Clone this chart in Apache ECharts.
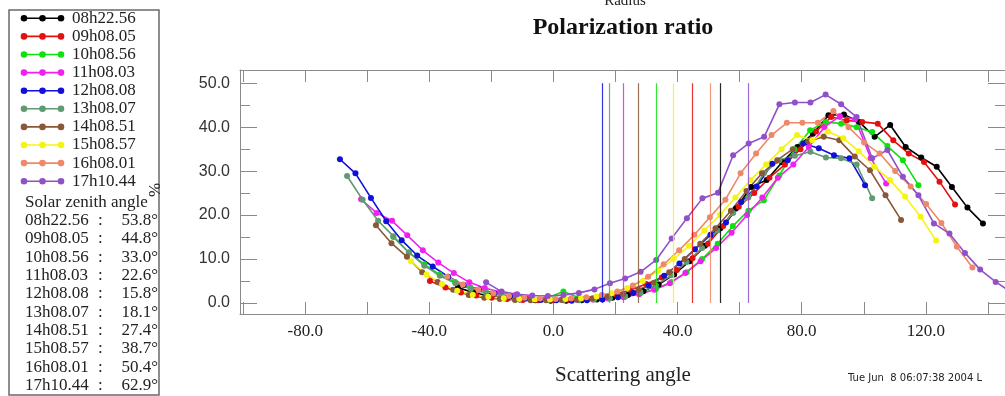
<!DOCTYPE html>
<html><head><meta charset="utf-8">
<script src="https://cdn.jsdelivr.net/npm/echarts@6/dist/echarts.min.js"></script>
<style>html,body{margin:0;padding:0;background:#fff;overflow:hidden}#c{width:1005px;height:396px}</style>
</head><body><div id="c"></div>
<script>
// ---- data ----
const names = ['08h22.56','09h08.05','10h08.56','11h08.03','12h08.08','13h08.07','14h08.51','15h08.57','16h08.01','17h10.44'];
const zenith = [53.8, 44.8, 33.0, 22.6, 15.8, 18.1, 27.4, 38.7, 50.4, 62.9];
const colors = ['#000000','#e41010','#10e010','#f020f0','#1010d8','#609a70','#8a5838','#f4f410','#ee8868','#9050c8'];
// viewing angles of the instrument (scattering angle = zenith + view angle)
const viewAngles = [-84.6,-79.6,-74.6,-69.7,-64.7,-59.7,-54.7,-49.7,-44.7,-39.8,-34.8,-29.8,-24.8,-19.9,-14.9,-9.9,-5.0,0.0,5.0,9.9,14.9,19.9,24.8,29.8,34.8,39.8,44.7,49.7,54.7,59.7,64.7,69.7,74.6,79.6,84.6];
const r08 = [3.5,2.4,1.6,1.1,0.8,0.6,0.5,0.5,0.6,0.8,1.2,1.8,2.7,4.2,6.5,9.5,13.0,17.0,21.5,26.4,28.0,32.0,35.5,38.5,42.7,42.9,41.2,37.8,40.5,35.5,33.1,31.0,26.4,21.7,18.1];
const r09 = [5.0,3.5,2.4,1.7,1.2,0.9,0.7,0.6,0.6,0.7,0.9,1.3,2.0,3.0,4.3,5.8,7.5,10.2,13.5,17.5,21.9,25.0,28.5,31.5,35.0,39.0,42.3,41.5,41.2,40.8,37.0,34.0,32.1,27.6,22.4];
const r10 = [15.0,11.5,8.8,6.5,4.8,3.5,2.5,1.8,1.4,1.1,1.2,2.6,1.2,1.0,1.1,1.5,2.2,3.2,4.8,7.0,10.0,13.5,17.5,21.0,23.4,29.0,35.0,39.3,41.2,40.8,40.0,38.9,35.7,32.5,26.8];
const r11 = [23.6,20.5,18.7,15.4,12.0,9.2,6.8,4.7,3.4,2.5,1.8,1.3,1.0,0.8,0.7,0.8,1.0,1.3,2.0,3.0,4.5,6.8,9.5,12.5,16.0,20.0,24.0,28.5,31.5,35.5,40.0,42.5,41.8,33.0,27.2];
const r12 = [32.7,29.5,23.9,18.6,14.3,10.8,8.3,6.0,4.1,3.1,2.2,1.5,1.0,0.7,0.6,0.5,0.6,0.8,1.3,2.3,4.0,6.2,9.0,12.2,15.5,18.3,23.0,26.5,31.7,32.5,36.3,35.2,33.6,32.9,26.8];
const r13 = [28.9,23.5,18.7,15.2,11.5,8.5,6.2,4.5,3.2,2.3,1.7,1.2,0.9,0.7,0.6,0.6,0.8,1.0,1.5,2.5,4.0,6.3,9.3,12.5,16.5,20.5,24.0,29.5,32.5,33.5,34.4,33.1,32.9,31.5,23.8];
const r14 = [17.7,13.6,10.5,7.0,4.8,3.0,1.8,1.2,0.9,0.7,0.6,0.6,0.7,0.8,1.0,1.4,2.0,3.0,4.6,7.0,10.0,13.5,17.0,21.0,25.5,29.5,32.5,35.0,36.8,37.8,37.0,33.3,30.2,24.5,18.9];
const r15 = [9.5,6.5,4.3,2.8,1.9,1.4,1.1,0.9,0.8,0.8,0.9,1.1,1.5,2.2,3.4,5.0,7.3,10.0,13.0,16.5,20.0,24.0,28.0,31.5,35.0,38.2,37.0,39.0,37.5,34.5,31.0,28.0,24.2,19.6,14.2];
const r16 = [6.0,4.2,3.0,2.2,1.6,1.2,1.0,0.9,1.0,1.3,1.8,2.6,4.0,6.0,8.8,12.0,15.5,19.5,23.5,29.5,34.0,38.2,41.0,41.0,41.0,43.7,40.0,36.5,34.0,30.0,26.5,22.5,18.2,12.8,8.1];
const r17 = [4.7,2.6,2.0,1.7,1.6,1.8,2.3,3.1,4.5,5.6,7.1,9.8,14.7,19.3,23.8,25.1,33.6,36.3,37.8,45.2,45.6,45.6,47.4,45.2,42.3,32.9,34.8,28.7,24.5,18.1,15.8,11.4,7.6,4.8,2.5];
const ratios = [r08,r09,r10,r11,r12,r13,r14,r15,r16,r17];
const xTicks = [-100,-80,-60,-40,-20,0,20,40,60,80,100,120,140];
const xLabels = [-80,-40,0,40,80,120];
const yMajor = [0,10,20,30,40,50];
const yMinor = [5,15,25,35,45];
const title = 'Polarization ratio';
const topTitle = 'Radius';
const xName = 'Scattering angle';
const yName = '%';
const tableTitle = 'Solar zenith angle';
const stamp = 'Tue Jun  8 06:07:38 2004 L';

// ---- chart ----
const chart = echarts.init(document.getElementById('c'), null, {renderer:'canvas'});
const axisGray = '#8a8a8a';
const serif = 'Liberation Serif';

const series = names.map((n, s) => ({
  name: n, type: 'line', xAxisIndex: 0, yAxisIndex: 0,
  data: viewAngles.map((v, i) => [Math.round((zenith[s] + v) * 10) / 10, ratios[s][i]]),
  symbol: 'circle', symbolSize: 6, showSymbol: true,
  lineStyle: {color: colors[s], width: 1.6},
  itemStyle: {color: colors[s]},
  emphasis: {disabled: true}, silent: true, animation: false, clip: true,
  markLine: {
    silent: true, symbol: ['none','none'], animation: false,
    label: {show: false},
    lineStyle: {color: colors[s], width: 1.2, type: 'solid', opacity: 0.85},
    data: [[{coord: [zenith[s], 0]}, {coord: [zenith[s], 50]}]]
  }
}));

function yAx(pos, ticks, len, showLine, labels) {
  return {
    type: 'value', position: pos, min: -2.5, max: 53,
    axisLine: {show: showLine, onZero: false, lineStyle: {color: axisGray, width: 1}},
    axisTick: {show: true, inside: true, length: len, customValues: ticks, lineStyle: {color: axisGray}},
    axisLabel: labels ? {show: true, customValues: ticks, formatter: v => v.toFixed(1), fontFamily: 'Liberation Sans', fontSize: 16, color: '#333', margin: 10} : {show: false},
    splitLine: {show: false}
  };
}
function xAx(pos, labels) {
  return {
    type: 'value', position: pos, min: -101, max: 145.5,
    axisLine: {show: true, onZero: false, lineStyle: {color: axisGray, width: 1}},
    axisTick: {show: true, inside: true, length: 12, customValues: xTicks, lineStyle: {color: axisGray}},
    axisLabel: labels ? {show: true, customValues: xLabels, formatter: v => v.toFixed(1), fontFamily: serif, fontSize: 17, color: '#222', margin: 9} : {show: false},
    splitLine: {show: false}
  };
}

const graphics = [];
graphics.push({type: 'rect', shape: {x: 9, y: 10, width: 150, height: 385}, style: {fill: 'none', stroke: '#6a6a6a', lineWidth: 1.5}, silent: true});
names.forEach((n, i) => {
  const y = 18.3 + i * 18.1;
  graphics.push({type: 'line', shape: {x1: 21, y1: y, x2: 64, y2: y}, style: {stroke: colors[i], lineWidth: 1.6}, silent: true});
  [24, 42.5, 61].forEach(cx => graphics.push({type: 'circle', shape: {cx: cx, cy: y, r: 3.3}, style: {fill: colors[i]}, silent: true}));
  graphics.push({type: 'text', x: 72, y: y, style: {text: n, font: '17px "Liberation Serif"', fill: '#222', textVerticalAlign: 'middle'}, silent: true});
});
graphics.push({type: 'text', x: 25, y: 203, style: {text: tableTitle, font: '17px "Liberation Serif"', fill: '#222', textVerticalAlign: 'middle'}, silent: true});
names.forEach((n, i) => {
  const y = 220.5 + i * 18.35;
  graphics.push({type: 'text', x: 25, y: y, style: {text: n, font: '17px "Liberation Serif"', fill: '#222', textVerticalAlign: 'middle'}, silent: true});
  graphics.push({type: 'text', x: 98, y: y, style: {text: ':', font: '17px "Liberation Serif"', fill: '#222', textVerticalAlign: 'middle'}, silent: true});
  graphics.push({type: 'text', x: 158, y: y, style: {text: zenith[i].toFixed(1) + '°', font: '17px "Liberation Serif"', fill: '#222', textVerticalAlign: 'middle', textAlign: 'right'}, silent: true});
});
graphics.push({type: 'text', x: 156, y: 190, rotation: Math.PI / 2, style: {text: yName, font: '17px "Liberation Serif"', fill: '#222', textAlign: 'center', textVerticalAlign: 'middle'}, silent: true});
graphics.push({type: 'text', x: 623, y: 28, style: {text: title, font: 'bold 24px "Liberation Serif"', fill: '#111', textAlign: 'center', textVerticalAlign: 'middle'}, silent: true});
graphics.push({type: 'text', x: 625, y: 1, style: {text: topTitle, font: '15px "Liberation Serif"', fill: '#222', textAlign: 'center', textVerticalAlign: 'middle'}, silent: true});
graphics.push({type: 'text', x: 623, y: 375, style: {text: xName, font: '21px "Liberation Serif"', fill: '#222', textAlign: 'center', textVerticalAlign: 'middle'}, silent: true});
graphics.push({type: 'text', x: 848, y: 378, style: {text: stamp, font: '10px "DejaVu Sans"', fill: '#222', textVerticalAlign: 'middle'}, silent: true});

chart.setOption({
  animation: false,
  backgroundColor: '#fff',
  grid: {left: 240, top: 70, right: -2, bottom: 82, containLabel: false},
  xAxis: [xAx('bottom', true), xAx('top', false)],
  yAxis: [yAx('left', yMajor, 17, true, true), yAx('left', yMinor, 10, false, false), yAx('right', yMajor, 17, true, false), yAx('right', yMinor, 10, false, false)],
  series: series,
  graphic: {elements: graphics}
});
</script></body></html>
